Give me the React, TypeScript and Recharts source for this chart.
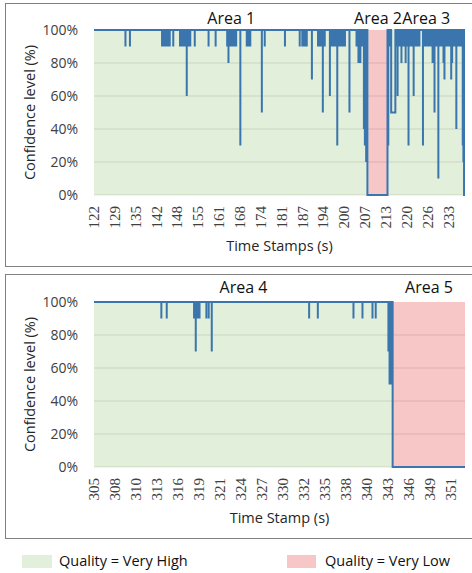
import { LineChart, Line, XAxis, YAxis, ReferenceArea, ReferenceLine } from "recharts";

const SANS = "'Open Sans', sans-serif";
const SERIF = "'Liberation Serif', serif";
const BLUE = "#3b75ae";
const GREEN = "#e2efda";
const PINK = "#f08d90";

const yTicks = [0, 20, 40, 60, 80, 100];
const gridLevels = [0, 20, 40, 60, 80];

// ---- top panel (time stamps 122 s .. ~237 s)
const topDomain: [number, number] = [122, 237.6];
const topTickStep = 6.5;
const topTickLabels = ["122", "129", "135", "142", "148", "155", "161", "168", "174", "181", "187", "194", "200", "207", "213", "220", "226", "233"];
const topAreaNames = ["Area 1", "Area 2", "Area 3"];
const topAreaBounds = [122, 207.5, 213.45, 237.6];
const topAreaQuality = ["high", "low", "high"];
// single samples below 100%: [time (s), confidence (%)]
const topSpikes: [number, number][] = [
  [131.8, 90], [133.2, 90],
  [143.2, 90], [143.8, 90], [144.4, 90], [145.0, 90], [145.6, 90],
  [146.7, 90],
  [148.8, 90], [149.4, 90], [150.0, 90], [150.5, 90], [150.9, 60], [151.4, 90], [152.0, 90],
  [153.4, 90],
  [157.7, 90], [159.9, 90],
  [163.5, 90], [163.9, 80], [164.4, 90], [164.9, 90], [165.4, 90], [165.9, 90], [166.3, 90],
  [167.6, 30],
  [169.6, 90], [170.1, 90], [170.7, 90],
  [174.3, 50], [175.2, 90],
  [181.5, 90],
  [186.1, 90], [186.9, 90], [187.3, 90], [187.7, 90], [188.3, 90],
  [189.9, 70],
  [191.8, 90], [192.2, 90], [192.6, 90], [193.0, 90], [193.3, 50], [193.9, 90],
  [195.5, 60],
  [196.0, 90], [196.4, 90], [196.8, 90], [197.2, 90], [197.5, 90], [197.8, 30], [198.1, 90], [198.4, 90],
  [198.8, 90], [199.2, 90], [199.7, 90], [200.2, 90],
  [201.6, 50],
  [203.8, 90], [204.1, 90], [204.4, 80], [204.7, 90], [205.0, 80],
  [205.4, 90], [205.8, 90], [206.1, 40], [206.4, 30], [206.8, 20],
  [213.7, 30], [214.1, 90], [214.4, 90],
  [216.1, 90], [216.3, 90], [216.6, 60], [216.9, 90], [217.2, 90], [217.5, 90], [217.8, 80], [218.1, 90],
  [218.4, 90], [218.8, 90], [219.1, 80], [219.5, 90],
  [220.0, 30], [220.5, 90], [220.9, 90], [221.3, 90], [221.6, 60], [222.2, 90], [222.8, 90], [223.4, 90],
  [224.5, 30], [224.9, 90], [225.3, 90], [225.6, 90], [225.9, 90],
  [226.5, 90], [226.9, 90], [227.2, 90], [227.5, 80], [227.8, 90], [228.1, 50], [228.4, 90], [228.7, 90],
  [229.0, 90], [229.3, 10], [229.7, 90],
  [230.1, 90], [230.6, 90], [230.9, 80], [231.2, 70], [231.5, 90], [231.9, 90], [232.2, 90], [232.5, 90],
  [232.9, 90], [233.3, 70], [233.6, 80], [233.8, 90], [234.3, 90], [234.6, 90], [234.9, 40], [235.2, 90],
  [235.6, 90], [236.0, 90], [236.4, 90], [236.9, 30], [237.1, 20],
];
// stretches held at one level: [from (s), to (s), confidence (%)]
const topHolds: [number, number, number][] = [
  [207.2, 213.45, 0],
  [214.6, 215.9, 50],
  [237.3, 237.6, 0],
];

// ---- bottom panel (time stamps 305 s .. ~353 s)
const bottomDomain: [number, number] = [305, 353.2];
const bottomTickStep = 2.73;
const bottomTickLabels = ["305", "308", "310", "313", "316", "319", "321", "324", "327", "330", "332", "335", "338", "340", "343", "346", "349", "351"];
const bottomAreaNames = ["Area 4", "Area 5"];
const bottomAreaBounds = [305, 343.85, 353.2];
const bottomAreaQuality = ["high", "low"];
const bottomSpikes: [number, number][] = [
  [313.75, 90], [314.45, 90],
  [318.0, 90], [318.22, 70], [318.45, 90], [318.71, 90],
  [319.6, 90], [319.9, 90],
  [320.3, 70],
  [332.95, 90], [334.08, 90],
  [338.71, 90], [339.88, 90],
  [341.18, 90], [341.6, 90],
  [343.25, 70], [343.4, 50], [343.55, 50], [343.68, 50],
];
const bottomHolds: [number, number, number][] = [[343.8, 353.2, 0]];

function buildSeries(domain: [number, number], spikes: [number, number][], holds: [number, number, number][]) {
  const runs: [number, number, number][] = [
    ...spikes.map(([t, v]) => [t, t, v] as [number, number, number]),
    ...holds,
  ].sort((a, b) => a[0] - b[0]);
  const pts = [{ t: domain[0], v: 100 }];
  for (const [s, e, v] of runs) {
    pts.push({ t: s, v: 100 }, { t: s, v });
    if (e > s) pts.push({ t: e, v });
    if (e < domain[1]) pts.push({ t: e, v: 100 });
  }
  if (pts[pts.length - 1].t < domain[1]) pts.push({ t: domain[1], v: 100 });
  return pts;
}

const SerifTick = ({ x, y, payload, labels, start, step }: any) => {
  const i = Math.round((payload.value - start) / step);
  return (
    <text
      x={x}
      y={y}
      transform={`rotate(-90 ${x} ${y})`}
      textAnchor="end"
      dominantBaseline="central"
      fontFamily={SERIF}
      fontSize={15}
      fill="#404040"
    >
      {labels[i]}
    </text>
  );
};

function Panel({ top, domain, tickStep, tickLabels, areaNames, areaBounds, areaQuality, series, xTitle, labelOffset }: any) {
  const ticks = tickLabels.map((_: string, i: number) => domain[0] + i * tickStep);
  return (
    <div style={{ position: "absolute", left: 0, top }}>
      <LineChart width={472} height={255} data={series} margin={{ top: 30, right: 7, bottom: 0, left: 0 }}>
        <XAxis
          dataKey="t"
          type="number"
          domain={domain}
          ticks={ticks}
          interval={0}
          allowDataOverflow
          axisLine={false}
          tickLine={false}
          tickMargin={5}
          height={60}
          tick={<SerifTick labels={tickLabels} start={domain[0]} step={tickStep} />}
          label={{ value: xTitle, position: "insideBottom", offset: 4, fill: "#262626", fontSize: 14.5, fontFamily: SANS }}
        />
        <YAxis
          type="number"
          domain={[0, 100]}
          ticks={yTicks}
          width={94}
          axisLine={false}
          tickLine={false}
          tickMargin={10}
          tickFormatter={(v) => `${v}%`}
          tick={{ fill: "#404040", fontSize: 14, fontFamily: SANS }}
          label={{
            value: "Confidence level (%)",
            angle: -90,
            position: "insideLeft",
            offset: 30,
            fill: "#262626",
            fontSize: 14.5,
            fontFamily: SANS,
            style: { textAnchor: "middle" },
          }}
        />
        {areaNames.map((name: string, i: number) => (
          <ReferenceArea
            key={name}
            x1={areaBounds[i]}
            x2={areaBounds[i + 1]}
            y1={0}
            y2={100}
            fill={areaQuality[i] === "high" ? GREEN : PINK}
            fillOpacity={areaQuality[i] === "high" ? 1 : 0.5}
            stroke="none"
            label={{ value: name, position: "top", offset: labelOffset, fill: "#111", fontSize: 16, fontFamily: SANS }}
          />
        ))}
        {gridLevels.map((level) => (
          <ReferenceLine key={level} y={level} stroke="#000" strokeOpacity={0.1} strokeWidth={1.2} />
        ))}
        <Line dataKey="v" type="linear" stroke={BLUE} strokeWidth={2} dot={false} isAnimationActive={false} />
      </LineChart>
    </div>
  );
}

export default function App() {
  const topSeries = buildSeries(topDomain, topSpikes, topHolds);
  const bottomSeries = buildSeries(bottomDomain, bottomSpikes, bottomHolds);
  return (
    <div style={{ position: "absolute", left: 0, top: 0, width: 472, height: 573, background: "#fff", fontFamily: SANS, overflow: "hidden" }}>
      <div style={{ position: "absolute", left: 5, top: 3, width: 480, height: 262, border: "1px solid #7f7f7f" }} />
      <div style={{ position: "absolute", left: 5, top: 274, width: 480, height: 263, border: "1px solid #7f7f7f" }} />
      <Panel
        top={0}
        domain={topDomain}
        tickStep={topTickStep}
        tickLabels={topTickLabels}
        areaNames={topAreaNames}
        areaBounds={topAreaBounds}
        areaQuality={topAreaQuality}
        series={topSeries}
        xTitle="Time Stamps (s)"
        labelOffset={6}
      />
      <Panel
        top={272}
        domain={bottomDomain}
        tickStep={bottomTickStep}
        tickLabels={bottomTickLabels}
        areaNames={bottomAreaNames}
        areaBounds={bottomAreaBounds}
        areaQuality={bottomAreaQuality}
        series={bottomSeries}
        xTitle="Time Stamp (s)"
        labelOffset={9}
      />
      <div style={{ position: "absolute", left: 22, top: 555, width: 30, height: 13, background: GREEN }} />
      <div style={{ position: "absolute", left: 59, top: 551, fontSize: 14.5, color: "#111", lineHeight: "20px" }}>Quality = Very High</div>
      <div style={{ position: "absolute", left: 287, top: 555, width: 29, height: 13, background: "#f7c6c7" }} />
      <div style={{ position: "absolute", left: 325, top: 551, fontSize: 14.5, color: "#111", lineHeight: "20px" }}>Quality = Very Low</div>
    </div>
  );
}
